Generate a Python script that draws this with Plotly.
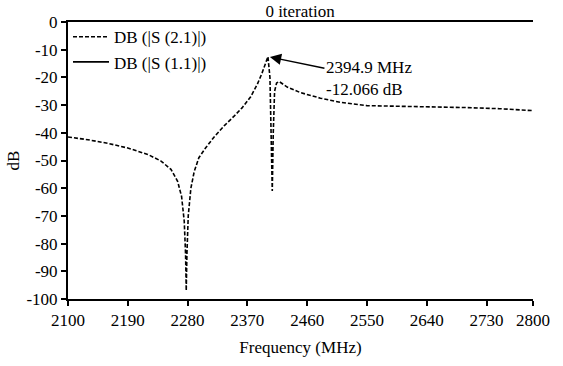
import plotly.graph_objects as go

freq_mhz = [2100, 2130, 2160, 2190, 2220, 2240, 2255, 2265, 2271, 2275, 2277, 2278, 2279, 2281,
            2285, 2290, 2297, 2307, 2320, 2335, 2350, 2362, 2375, 2385, 2392, 2397, 2401,
            2404, 2406, 2407.5, 2409, 2411, 2414, 2418, 2430, 2450, 2480, 2510, 2550,
            2600, 2650, 2700, 2750, 2800]
s21_db = [-41.5, -42.5, -43.8, -45.5, -47.8, -50.2, -53.2, -57.5, -63, -72, -84, -97, -84, -70,
          -60, -54, -49, -45.5, -41.5, -37.5, -34, -31, -27, -22.5, -18.5, -15, -12.5,
          -20, -40, -61, -40, -25, -22, -21.5, -23.5, -25.5, -27.5, -29, -30.2,
          -30.4, -30.6, -30.9, -31.3, -32]

s11_freq = [None]
s11_db = [None]

x_ticks = [2100, 2190, 2280, 2370, 2460, 2550, 2640, 2730, 2800]
y_ticks = [0, -10, -20, -30, -40, -50, -60, -70, -80, -90, -100]
y_tick_text = ["0", "-10", "-20", "-30", "-40", "-50", "-60", "-70", "-80", "-90", "-100"]

marker_freq = 2401
marker_db = -12.5
marker_text = "2394.9 MHz<br>-12.066 dB"

FONT = "Times New Roman, Liberation Serif, DejaVu Serif"

fig = go.Figure()
fig.add_trace(go.Scatter(x=freq_mhz, y=s21_db, mode="lines", name="DB (|S (2.1)|)",
                         line=dict(color="black", width=1.6, dash="4px,2px")))
fig.add_trace(go.Scatter(x=s11_freq, y=s11_db, mode="lines", name="DB (|S (1.1)|)",
                         line=dict(color="black", width=1.6)))

# arrow
fig.add_annotation(x=marker_freq, y=marker_db, xref="x", yref="y", text="",
                   showarrow=True, arrowhead=2, arrowsize=1.5, arrowwidth=1.5,
                   arrowcolor="black", ax=58, ay=12, standoff=2)
# marker text
fig.add_annotation(x=marker_freq, y=marker_db, xref="x", yref="y", text=marker_text,
                   showarrow=False, xanchor="left", yanchor="top", align="left",
                   xshift=56, yshift=1,
                   font=dict(family=FONT, size=17, color="black"))

fig.update_layout(
    width=563, height=366,
    margin=dict(l=68, r=30, t=22, b=64),
    paper_bgcolor="white", plot_bgcolor="white",
    font=dict(family=FONT, size=16, color="black"),
    title=dict(text="0 iteration", x=0.533, xanchor="center", y=0.985, yanchor="top",
               font=dict(family=FONT, size=17, color="black")),
    showlegend=True,
    legend=dict(x=0.0, y=1.01, xanchor="left", yanchor="top", bgcolor="rgba(0,0,0,0)",
                font=dict(family=FONT, size=17), tracegroupgap=0, itemwidth=36),
)
fig.update_xaxes(range=[2100, 2800], tickvals=x_ticks, showgrid=False, zeroline=False,
                 showline=True, linecolor="black", linewidth=2, mirror=True,
                 ticks="outside", ticklen=5, tickwidth=2, tickcolor="black",
                 title=dict(text="Frequency (MHz)", standoff=12, font=dict(family=FONT, size=17)),
                 tickfont=dict(family=FONT, size=17))
fig.update_yaxes(range=[-100, 0], tickvals=y_ticks, ticktext=y_tick_text, showgrid=False,
                 zeroline=False, showline=True, linecolor="black", linewidth=2,
                 ticks="outside", ticklen=5, tickwidth=2, tickcolor="black",
                 title=dict(text="dB", standoff=2, font=dict(family=FONT, size=17)),
                 tickfont=dict(family=FONT, size=17))

fig.write_html("out.html")
